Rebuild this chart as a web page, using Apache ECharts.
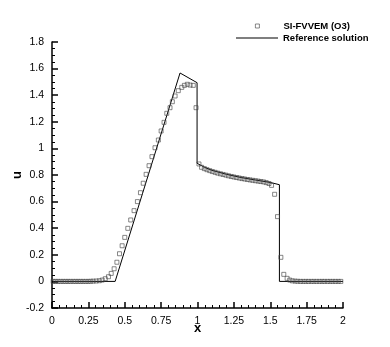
<!DOCTYPE html>
<html>
<head>
<meta charset="utf-8">
<script src="https://cdn.jsdelivr.net/npm/echarts@6/dist/echarts.min.js"></script>
<style>
  html, body { margin: 0; padding: 0; background: #fff; }
  #main { width: 390px; height: 347px; }
</style>
</head>
<body>
<div id="main"></div>
<script>
var chartDom = document.getElementById('main');
var myChart = echarts.init(chartDom);

// SI-FVVEM (O3) samples
var numX = [0.008, 0.025, 0.042, 0.060, 0.077, 0.094, 0.111, 0.128, 0.146, 0.163,
    0.180, 0.197, 0.214, 0.232, 0.249, 0.266, 0.283, 0.304, 0.325, 0.345,
    0.366, 0.388, 0.407, 0.427, 0.446, 0.464, 0.482, 0.500, 0.521, 0.541,
    0.564, 0.587, 0.608, 0.627, 0.647, 0.667, 0.687, 0.708, 0.731, 0.750,
    0.770, 0.789, 0.811, 0.827, 0.846, 0.868, 0.892, 0.910, 0.930, 0.949,
    0.971, 0.990,
    1.010, 1.028, 1.047, 1.065, 1.084, 1.102, 1.121, 1.139, 1.158, 1.176,
    1.195, 1.213, 1.232, 1.250, 1.269, 1.287, 1.306, 1.324, 1.343, 1.361,
    1.380, 1.398, 1.417, 1.435, 1.454, 1.472, 1.491, 1.509, 1.530, 1.550,
    1.573, 1.593, 1.616, 1.634, 1.652, 1.671, 1.689, 1.708, 1.726, 1.745,
    1.763, 1.782, 1.800, 1.819, 1.837, 1.856, 1.874, 1.893, 1.911, 1.930,
    1.948, 1.967, 1.985]
var numU = [0, 0, 0, 0, 0, 0, 0, 0, 0, 0,
    0, 0, 0, 0, 0, 0.001, 0.002, 0.003, 0.005, 0.010,
    0.020, 0.035, 0.060, 0.095, 0.144, 0.208, 0.268, 0.331, 0.399, 0.462,
    0.532, 0.600, 0.667, 0.738, 0.805, 0.870, 0.938, 1.005, 1.063, 1.131,
    1.196, 1.264, 1.306, 1.351, 1.394, 1.434, 1.459, 1.474, 1.482, 1.476,
    1.474, 1.306,
    0.883, 0.858, 0.848, 0.840, 0.833, 0.826, 0.820, 0.814, 0.809, 0.804,
    0.799, 0.794, 0.789, 0.785, 0.781, 0.777, 0.773, 0.770, 0.766, 0.763,
    0.760, 0.757, 0.754, 0.751, 0.748, 0.743, 0.736, 0.722, 0.655, 0.487,
    0.181, 0.053, 0.023, 0.010, 0.004, 0.002, 0.001, 0, 0, 0,
    0, 0, 0, 0, 0, 0, 0, 0, 0, 0,
    0, 0, 0]

// Reference solution
var refX = [0, 0.434, 0.880, 0.997, 0.997, 1.05, 1.10, 1.20, 1.30, 1.40, 1.50, 1.563, 1.563, 2.0]
var refU = [0, 0, 1.567, 1.494, 0.888, 0.857, 0.835, 0.805, 0.781, 0.762, 0.744, 0.727, 0, 0]

var xTicks = [0, 0.25, 0.5, 0.75, 1, 1.25, 1.5, 1.75, 2]
var yTicks = [-0.2, 0, 0.2, 0.4, 0.6, 0.8, 1, 1.2, 1.4, 1.6, 1.8]

var fontFam = '"Liberation Sans", Arial, Helvetica, sans-serif'

function pairs(xs, ys) {
    var out = []
    for (var i = 0; i < xs.length; i++) {
        out.push([xs[i], ys[i]])
    }
    return out
}

var markerStyle = { color: 'transparent', borderColor: '#444', borderWidth: 0.8 }

var axisCommon = {
    axisLine: { show: true, onZero: false, lineStyle: { color: '#000', width: 1.5 } },
    axisTick: { show: true, inside: true, length: 6, lineStyle: { color: '#000', width: 1.5 } },
    minorTick: { show: true, length: 3, lineStyle: { color: '#000', width: 1 } },
    splitLine: { show: false },
    axisLabel: { color: '#000', fontSize: 10.5, fontFamily: fontFam },
    nameMoveOverlap: false,
    nameTextStyle: { color: '#000', fontSize: 13, fontWeight: 'bold', fontFamily: fontFam }
}

var option = {
    animation: false,
    backgroundColor: '#fff',
    grid: { left: 52, right: 47, top: 42, bottom: 39, outerBoundsMode: 'none', containLabel: false },
    legend: [{
        data: [{ name: 'SI-FVVEM (O3)', icon: 'rect', itemStyle: markerStyle }],
        orient: 'vertical',
        left: 255, top: 21, padding: 0,
        itemWidth: 4, itemHeight: 4,
        textStyle: { color: '#000', fontSize: 9.5, fontWeight: 'bold', fontFamily: fontFam, padding: [0, 0, 0, 19] }
    }, {
        data: [{ name: 'Reference solution', icon: 'rect' }],
        orient: 'vertical',
        left: 236, top: 33, padding: 0,
        itemWidth: 42, itemHeight: 1,
        textStyle: { color: '#000', fontSize: 9.5, fontWeight: 'bold', fontFamily: fontFam }
    }],
    xAxis: Object.assign({}, axisCommon, {
        type: 'value',
        min: xTicks[0], max: xTicks[xTicks.length - 1], interval: 0.25,
        minorTick: Object.assign({}, axisCommon.minorTick, { splitNumber: 5 }),
        name: 'x', nameLocation: 'middle', nameGap: 14
    }),
    yAxis: Object.assign({}, axisCommon, {
        type: 'value',
        min: yTicks[0], max: yTicks[yTicks.length - 1], interval: 0.2,
        minorTick: Object.assign({}, axisCommon.minorTick, { splitNumber: 4 }),
        axisLabel: Object.assign({}, axisCommon.axisLabel, {
            formatter: function (v) { return String(Math.round(v * 10) / 10) }
        }),
        name: 'u', nameLocation: 'middle', nameGap: 28
    }),
    series: [{
        name: 'SI-FVVEM (O3)',
        type: 'scatter',
        symbol: 'rect',
        symbolSize: 4,
        itemStyle: markerStyle,
        data: pairs(numX, numU),
        z: 3
    }, {
        name: 'Reference solution',
        type: 'line',
        symbol: 'none',
        lineStyle: { color: '#000', width: 1 },
        itemStyle: { color: '#000' },
        data: pairs(refX, refU),
        z: 2
    }]
};
option && myChart.setOption(option);
</script>
</body>
</html>
